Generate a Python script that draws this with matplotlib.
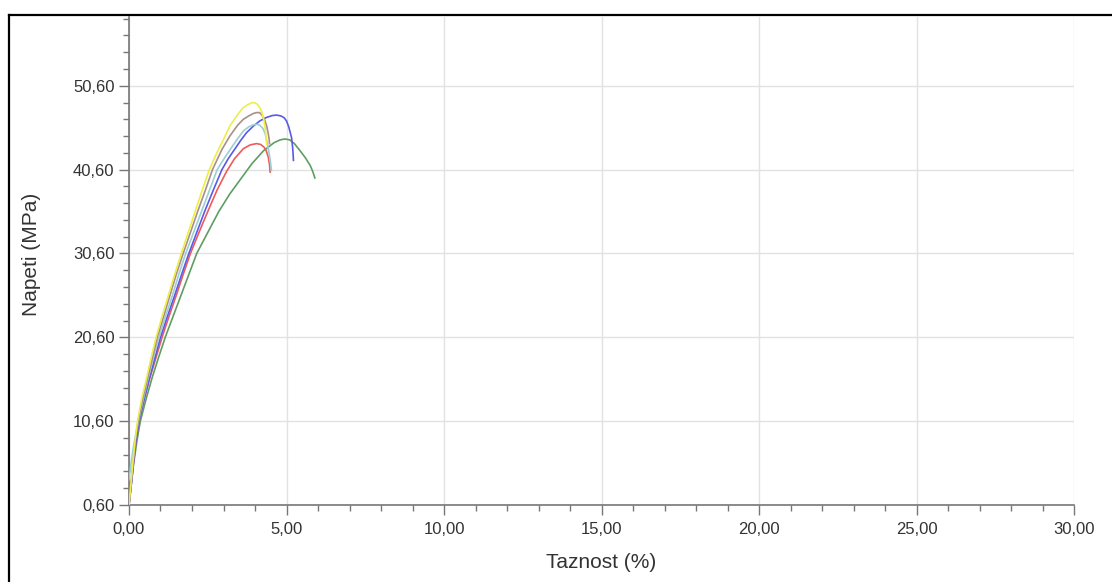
import numpy as np
import matplotlib
matplotlib.use('Agg')
import matplotlib.pyplot as plt
from matplotlib.ticker import FixedLocator, MultipleLocator, FuncFormatter
from matplotlib.lines import Line2D

plt.rcParams['font.family'] = ['Liberation Sans', 'DejaVu Sans']

# tensile test curves: strain (%) vs stress (MPa), one per specimen
yellow_x = [0, 0.06, 0.12, 0.19, 0.27, 0.4, 0.55, 0.7, 0.86, 1.05, 1.25, 1.45, 1.66, 1.88, 2.1, 2.32, 2.55,
            2.8, 3.0, 3.2, 3.4, 3.6, 3.75, 3.88, 3.97, 4.07, 4.15, 4.22, 4.28, 4.33, 4.37]
yellow_y = [0.6, 3.0, 5.6, 8.2, 10.6, 13.2, 15.6, 18.1, 20.6, 23.1, 25.6, 28.1, 30.6, 33.1, 35.6, 38.1, 40.6,
            42.7, 44.2, 45.8, 46.9, 47.9, 48.3, 48.55, 48.6, 48.4, 48.0, 47.4, 46.5, 45.3, 43.6]

brown_x = [0, 0.06, 0.13, 0.2, 0.29, 0.43, 0.58, 0.74, 0.9, 1.1, 1.3, 1.5, 1.72, 1.95, 2.18, 2.42, 2.65,
           2.95, 3.2, 3.45, 3.63, 3.8, 3.95, 4.05, 4.14, 4.22, 4.3, 4.37, 4.42, 4.45, 4.46]
brown_y = [0.6, 3.0, 5.6, 8.2, 10.6, 13.2, 15.6, 18.1, 20.6, 23.1, 25.6, 28.1, 30.6, 33.1, 35.6, 38.1, 40.6,
           43.0, 44.6, 45.9, 46.6, 47.0, 47.3, 47.4, 47.4, 47.1, 46.6, 45.8, 44.9, 44.2, 43.7]

cyan_x = [0, 0.06, 0.12, 0.2, 0.3, 0.45, 0.6, 0.77, 0.95, 1.16, 1.38, 1.58, 1.8, 2.05, 2.3, 2.55, 2.8,
          3.05, 3.25, 3.45, 3.63, 3.8, 3.95, 4.05, 4.15, 4.25, 4.32, 4.38, 4.45, 4.49, 4.52]
cyan_y = [3.6, 5.4, 7.0, 8.8, 10.6, 13.2, 15.6, 18.1, 20.6, 23.1, 25.6, 28.1, 30.6, 33.1, 35.6, 38.1, 40.6,
          42.1, 43.2, 44.3, 45.2, 45.7, 45.95, 46.0, 45.9, 45.5, 44.9, 43.9, 42.5, 41.5, 40.5]

blue_x = [0, 0.07, 0.14, 0.22, 0.32, 0.48, 0.64, 0.82, 1.0, 1.22, 1.45, 1.67, 1.9, 2.15, 2.4, 2.67, 2.95,
          3.15, 3.35, 3.55, 3.73, 3.95, 4.15, 4.35, 4.55, 4.69, 4.82, 4.92, 5.0, 5.07, 5.12, 5.16, 5.2, 5.22]
blue_y = [0.6, 3.0, 5.6, 8.2, 10.6, 13.2, 15.6, 18.1, 20.6, 23.1, 25.6, 28.1, 30.6, 33.1, 35.6, 38.1, 40.6,
          41.9, 43.0, 44.1, 45.0, 45.8, 46.4, 46.8, 47.05, 47.1, 47.0, 46.8, 46.4, 45.7, 45.0, 44.4, 43.0, 41.7]

red_x = [0, 0.07, 0.14, 0.22, 0.32, 0.48, 0.65, 0.85, 1.05, 1.27, 1.5, 1.72, 1.95, 2.22, 2.5, 2.8, 3.1,
         3.35, 3.63, 3.85, 4.05, 4.18, 4.28, 4.35, 4.42, 4.46, 4.48]
red_y = [0.6, 3.0, 5.6, 8.2, 10.6, 13.2, 15.6, 18.1, 20.6, 23.1, 25.6, 28.1, 30.6, 33.1, 35.6, 38.2, 40.4,
         41.9, 43.1, 43.55, 43.7, 43.6, 43.3, 42.9, 42.1, 41.2, 40.3]

green_x = [0, 0.07, 0.15, 0.25, 0.36, 0.54, 0.72, 0.93, 1.15, 1.4, 1.65, 1.9, 2.15, 2.5, 2.85, 3.2, 3.55,
           3.9, 4.27, 4.6, 4.8, 4.95, 5.1, 5.25, 5.43, 5.6, 5.75, 5.83, 5.9]
green_y = [0.6, 3.0, 5.6, 8.2, 10.6, 13.2, 15.6, 18.1, 20.6, 23.1, 25.6, 28.1, 30.6, 33.1, 35.6, 37.7, 39.5,
           41.3, 42.85, 43.8, 44.15, 44.25, 44.15, 43.7, 42.85, 42.0, 41.1, 40.4, 39.6]

curves = [
    (green_x, green_y, '#5f9e62'),
    (red_x, red_y, '#f05a5a'),
    (blue_x, blue_y, '#5a5ae6'),
    (cyan_x, cyan_y, '#9ccfd2'),
    (brown_x, brown_y, '#a89088'),
    (yellow_x, yellow_y, '#eeee4a'),
]

fig = plt.figure(figsize=(11.12, 5.82), dpi=100)
ax = fig.add_axes([0.116, 0.1323, 0.85, 0.8385])

for x, y, c in curves:
    ax.plot(x, y, color=c, lw=1.2, zorder=3)

ax.set_xlim(0, 30)
ax.set_ylim(0.6, 58.8)

fmt = FuncFormatter(lambda v, p: f'{v:.2f}'.replace('.', ','))
ax.xaxis.set_major_locator(MultipleLocator(5))
ax.xaxis.set_minor_locator(MultipleLocator(1))
ax.yaxis.set_major_locator(FixedLocator(np.arange(0.6, 51, 10)))
ax.yaxis.set_minor_locator(FixedLocator(np.arange(0.6, 58.8, 2)))
ax.xaxis.set_major_formatter(fmt)
ax.yaxis.set_major_formatter(fmt)

ax.grid(True, which='major', color='#e2e2e2', lw=1)
ax.set_axisbelow(True)
for s in ['top', 'right']:
    ax.spines[s].set_visible(False)
for s in ['left', 'bottom']:
    ax.spines[s].set_color('#777777')
    ax.spines[s].set_linewidth(1.2)

ax.tick_params(which='major', length=7, width=1, color='#777777', labelsize=12, labelcolor='#333333')
ax.tick_params(which='minor', length=4, width=1, color='#777777')
ax.tick_params(axis='x', which='major', pad=5)

ax.set_xlabel('Taznost (%)', fontsize=15, color='#333333')
ax.set_ylabel('Napeti (MPa)', fontsize=15, color='#333333')
ax.xaxis.set_label_coords(0.5, -0.099)
ax.yaxis.set_label_coords(-0.093, 0.513)

# black frame along the left and top edges
fig.add_artist(Line2D([8.5 / 1112, 8.5 / 1112], [0, 1 - 15 / 582], transform=fig.transFigure, color='black', lw=1.6))
fig.add_artist(Line2D([8.5 / 1112, 1], [1 - 15 / 582, 1 - 15 / 582], transform=fig.transFigure, color='black', lw=1.6))

fig.savefig('out.png', dpi=100)
